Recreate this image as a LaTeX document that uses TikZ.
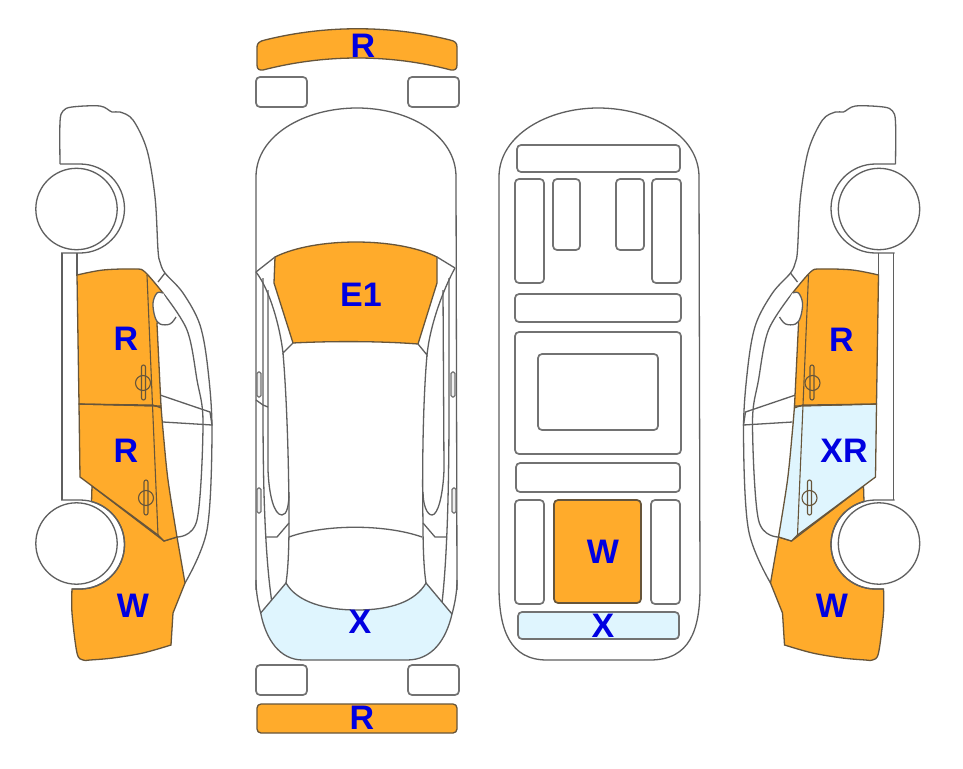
\documentclass[tikz,border=0pt]{standalone}
\usepackage{fontspec}
\setmainfont{Liberation Sans}
\definecolor{dmgorange}{HTML}{FFAB2B}
\definecolor{dmgblue}{HTML}{DFF5FE}
\definecolor{linegray}{HTML}{5F5F5F}
\definecolor{edgebrown}{HTML}{67553A}
\definecolor{boxgray}{HTML}{727272}
\definecolor{labelblue}{HTML}{0000E1}

\newcommand{\sideview}[1]{
    \draw [outline] plot [smooth, tension=.55] coordinates {(60,164) (60,122) (63,111) (72,107) (100,106) (112,112) (120,112) (133,120) (147,150) (155,197) (158,250) (160,262) (165,273) (183,293) (200,325) (208,370) (212,433) (207,530) (185,583)};
    \draw [outline] (158,282) -- (165,273);
    \draw [outline] plot [smooth, tension=.55] coordinates {(163,293) (187,330) (197,380) (203,423) (197,520) (177,537)};
    \draw [outline] (160,395) -- (210,412) -- (212,425) -- (163,422);
    \draw [outline] (62,253) -- (62,500);
    \draw [outline] (77,253) -- (77,276);
    \filldraw [orangepart] (92,486) -- (164,541) -- (177,537) -- (185,583) -- (173,613) -- (171,645)
      -- plot [smooth, tension=.55] coordinates {(171,645) (143,653) (113,658) (90,660) (83,660) (77,653) (72,613) (72,589)}
      -- (80,589) arc [start angle=90, end angle=-75, radius=44.5] -- cycle;
    \filldraw [orangepart, fill=#1] (79,404) -- (80,477) -- (158,535) -- (164,541) -- (177,537)
      -- plot [smooth, tension=.55] coordinates {(177,537) (168,480) (163,430) (161,406)} -- cycle;
    \filldraw [orangepart] (79,404) -- (77,275)
      -- plot [smooth, tension=.55] coordinates {(77,275) (103,270) (135,269) (145,272) (163,293)}
      -- (157,324) -- (161,406) -- cycle;
    \filldraw [outline, fill=white] plot [smooth, tension=.6] coordinates {(163,293) (157,293) (153,303) (155,317) (160,324) (170,324) (176,317)};
    \draw [doorline] (147,275) -- (158,535);
    \draw [doorline] (79,404) -- (153,405) -- (161,408);
    \draw [doorline] (143,383) circle [radius=7.5];
    \draw [doorline, rounded corners=2] (141.5,365) rectangle (145.5,400);
    \draw [doorline] (146,498) circle [radius=7.5];
    \draw [doorline, rounded corners=2] (144,480) rectangle (148,515);
    \draw [outline] (60,164) -- (80,164) arc [start angle=-90, end angle=90, radius=44.5] -- (61,253);
    \draw [outline] (61,500) -- (80,500) arc [start angle=-90, end angle=90, radius=44.5] -- (72,589);
    \filldraw [outline, fill=white] (76.5,209) circle [radius=40.7];
    \filldraw [outline, fill=white] (76.5,543.5) circle [radius=40.7];
}

\begin{document}
\begin{tikzpicture}
    [ x = 1pt, y = -1pt
    , outline/.style =
      { draw=linegray, line width=1.3pt }
    , orangepart/.style =
      { draw=edgebrown, line width=1.3pt, fill=dmgorange }
    , bluepart/.style =
      { draw=linegray, line width=1.3pt, fill=dmgblue }
    , doorline/.style =
      { draw=edgebrown, line width=1.1pt }
    , panel/.style =
      { draw=boxgray, line width=1.7pt, rounded corners=4pt }
    , handle/.style =
      { draw=boxgray, line width=1.2pt, fill=black!6, rounded corners=1.5pt }
    , dmg/.style =
      { text=labelblue, inner sep=0pt, font=\fontsize{34}{34}\selectfont\bfseries }
    ]
    \useasboundingbox [fill=white] (0,0) rectangle (963,768);

    \sideview{dmgorange}
    \begin{scope}[xshift=955.5pt, xscale=-1]
      \sideview{dmgblue}
    \end{scope}

    \filldraw [orangepart] (257,47) .. controls (257,43) and (260,41) .. (265,40)
      .. controls (325,25) and (390,25) .. (450,40) .. controls (455,41) and (457,43) .. (457,47)
      -- (457,65) .. controls (457,69) and (455,70.5) .. (451,70)
      .. controls (390,54) and (325,54) .. (263,70) .. controls (259,70.5) and (257,69) .. (257,65) -- cycle;
    \draw [panel] (256,77) rectangle (307,107);
    \draw [panel] (408,77) rectangle (459,107);

    \draw [outline] (256,590) -- (256,177) .. controls (256,135) and (305,108) .. (357,108)
      .. controls (409,108) and (456,135) .. (456,177) -- (457,590);
    \filldraw [orangepart] (275,257) .. controls (315,237) and (397,237) .. (437,257)
      -- (437,283) -- (418,344) .. controls (380,341) and (330,341) .. (293,343) -- (274,283) -- cycle;
    \draw [outline] (256,272) -- (275,257);
    \draw [outline] (437,257) -- (455,268);
    \draw [outline] (256,272) .. controls (270,290) and (280,327) .. (283,353) -- (293,343);
    \draw [outline] (455,268) .. controls (443,290) and (430,325) .. (427,355) -- (418,344);
    \draw [outline] (283,353) .. controls (287,400) and (289,470) .. (289,523) .. controls (289,550) and (288,570) .. (286,583);
    \draw [outline] (427,355) .. controls (423,400) and (422,470) .. (423,523) .. controls (423,550) and (424,570) .. (426,583);
    \draw [outline] (263,278) -- (263,405) .. controls (263,470) and (264,550) .. (272,603);
    \draw [outline] (449,278) -- (449,405) .. controls (449,470) and (448,550) .. (442,603);
    \draw [outline] (268,290) -- (268,470) .. controls (269,495) and (274,515) .. (282,515) .. controls (287,515) and (289,505) .. (289,492);
    \draw [outline] (443,290) -- (444,470) .. controls (443,495) and (438,515) .. (432,515) .. controls (427,515) and (423,505) .. (423,492);
    \draw [outline] (256,400) -- (263,405) -- (268,407);
    \draw [outline] (266,537) -- (277,537) -- (289,523);
    \draw [outline] (447,537) -- (435,537) -- (423,523);
    \draw [outline] (289,537) .. controls (325,524) and (385,524) .. (422,537);
    \filldraw [bluepart] (260.7,613) -- (286,583) .. controls (297,602) and (325,610) .. (357,610)
      .. controls (390,610) and (415,602) .. (426,583) -- (452,614)
      .. controls (446,640) and (432,660) .. (407,660) -- (303,660)
      .. controls (280,660) and (266,640) .. (260.7,613) -- cycle;
    \draw [outline] (256,580) .. controls (256,592) and (258,603) .. (260.7,613);
    \draw [outline] (457,580) .. controls (457,592) and (455,603) .. (452,614);
    \draw [handle] (257,372) rectangle (261,397);
    \draw [handle] (257,488) rectangle (261,513);
    \draw [handle] (451,372) rectangle (455,397);
    \draw [handle] (452,488) rectangle (456,513);
    \draw [panel] (256,665) rectangle (307,695);
    \draw [panel] (408,665) rectangle (459,695);
    \filldraw [orangepart, rounded corners=4pt] (257,704) rectangle (457,733);

    \draw [outline] (499,587) -- (499,177) .. controls (499,135) and (548,108) .. (598,108)
      .. controls (650,108) and (699,135) .. (699,177) -- (700,587)
      .. controls (700,630) and (690,660) .. (650,660) -- (547,660)
      .. controls (510,660) and (499,630) .. (499,587);
    \draw [panel] (517,145) rectangle (680,172);
    \draw [panel] (515,179) rectangle (544,283);
    \draw [panel] (553,179) rectangle (580,250);
    \draw [panel] (616,179) rectangle (644,250);
    \draw [panel] (652,179) rectangle (681,283);
    \draw [panel] (515,294) rectangle (681,322);
    \draw [panel] (515,332) rectangle (681,454);
    \draw [panel] (538,354) rectangle (658,430);
    \draw [panel] (516,463) rectangle (680,492);
    \draw [panel] (515,500) rectangle (544,604);
    \draw [panel, fill=dmgorange, draw=edgebrown] (554,500) rectangle (641,603);
    \draw [panel] (651,500) rectangle (680,604);
    \draw [panel, fill=dmgblue] (518,612) rectangle (679,639);

    \node [dmg] (frontbumper) at (363,46) {R};
    \node [dmg] (windshield) at (361,295) {E1};
    \node [dmg] (tailgate) at (360,622) {X};
    \node [dmg] (rearbumper) at (362,718) {R};
    \node [dmg] (leftfrontdoor) at (126,339) {R};
    \node [dmg] (leftreardoor) at (126,451) {R};
    \node [dmg] (leftquarter) at (133,606) {W};
    \node [dmg] (trunkfloor) at (603,552) {W};
    \node [dmg] (rearpanel) at (603,626) {X};
    \node [dmg] (rightfrontdoor) at (841.5,340) {R};
    \node [dmg] (rightreardoor) at (844,451) {XR};
    \node [dmg] (rightquarter) at (832,606) {W};
  \end{tikzpicture}
\end{document}
